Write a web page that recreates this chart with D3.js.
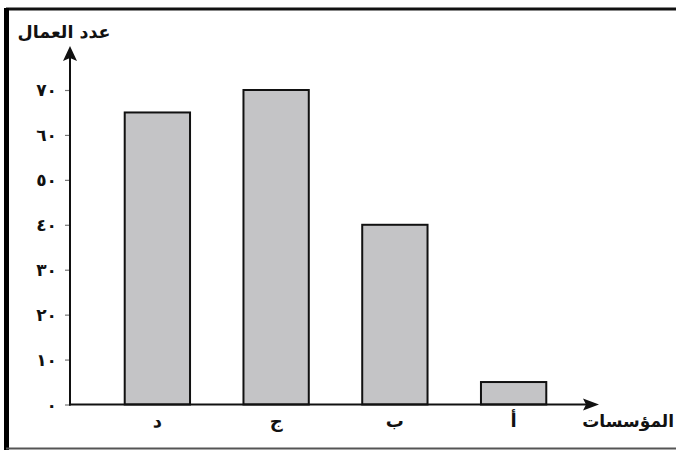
<!DOCTYPE html>
<html><head><meta charset="utf-8">
<script src="https://cdn.jsdelivr.net/npm/d3@7"></script>
<style>
html,body{margin:0;padding:0;background:#fff;}
svg{display:block;}
</style></head>
<body>
<svg id="c" width="676" height="450"></svg>
<script>
const categories = ["د", "ج", "ب", "أ"];
const values = [65, 70, 40, 5];
const tickValues = [0, 10, 20, 30, 40, 50, 60, 70];
const tickLabels = ["٠", "١٠", "٢٠", "٣٠", "٤٠", "٥٠", "٦٠", "٧٠"];
const yTitle = "عدد العمال";
const xTitle = "المؤسسات";

const svg = d3.select("#c");
const font = "'DejaVu Sans', sans-serif";

// frame
svg.append("rect").attr("x",0).attr("y",0).attr("width",676).attr("height",450).attr("fill","#fff");
svg.append("line").attr("x1",6).attr("x2",676).attr("y1",9).attr("y2",9).attr("stroke","#111").attr("stroke-width",3);
svg.append("line").attr("x1",6.5).attr("x2",6.5).attr("y1",8).attr("y2",450).attr("stroke","#000").attr("stroke-width",5);
svg.append("line").attr("x1",6).attr("x2",676).attr("y1",448.5).attr("y2",448.5).attr("stroke","#555").attr("stroke-width",2);

const x0 = 70, y0 = 404.5;
const x = d3.scaleBand().domain(categories).range([98, 573]).paddingInner(0.45).paddingOuter(0.225);
const y = d3.scaleLinear().domain([0, 70]).range([y0, 90]);

// bars
svg.append("g").selectAll("rect").data(values).join("rect")
  .attr("x", (d,i) => x(categories[i]))
  .attr("y", d => y(d))
  .attr("width", x.bandwidth())
  .attr("height", d => y0 - y(d))
  .attr("fill", "#c4c4c6")
  .attr("stroke", "#111")
  .attr("stroke-width", 2);

// y axis
const yAxis = d3.axisLeft(y).tickValues(tickValues).tickSize(5).tickFormat((d,i) => tickLabels[i]);
const gy = svg.append("g").attr("transform", `translate(${x0},0)`).call(yAxis);
gy.select(".domain").remove();
gy.selectAll(".tick line").attr("stroke", "#777").attr("stroke-width", 1.2);
gy.selectAll(".tick text").attr("x", -13).attr("font-family", font).attr("font-weight","bold").attr("font-size", 17).attr("fill","#111").attr("dy","0.35em");

svg.append("line").attr("x1", x0).attr("x2", x0).attr("y1", y0+1).attr("y2", 58).attr("stroke", "#111").attr("stroke-width", 2);
svg.append("path").attr("d", `M${x0},46 L${x0-7},61 L${x0},58 L${x0+7},61 Z`).attr("fill","#111");

// x axis
const xAxis = d3.axisBottom(x).tickSize(0).tickPadding(8);
const gx = svg.append("g").attr("transform", `translate(0,${y0})`).call(xAxis);
gx.select(".domain").remove();
gx.selectAll(".tick text").attr("font-family", font).attr("font-weight","bold").attr("font-size", 18).attr("fill","#111").attr("dy","0.8em");

svg.append("line").attr("x1", x0-1).attr("x2", 586).attr("y1", y0).attr("y2", y0).attr("stroke", "#111").attr("stroke-width", 2);
svg.append("path").attr("d", `M599,${y0} L583,${y0-6} L586,${y0} L583,${y0+6} Z`).attr("fill","#111");

// titles
svg.append("text").attr("x", 64).attr("y", 38).attr("text-anchor","middle").attr("direction","rtl")
  .attr("font-family", font).attr("font-weight","bold").attr("font-size", 17.5).attr("fill","#111").text(yTitle);
const xt = svg.append("text").attr("x", 631).attr("y", 427).attr("text-anchor","middle").attr("direction","rtl")
  .attr("font-family", font).attr("font-weight","bold").attr("font-size", 17).attr("fill","#111").text(xTitle);
const bb = xt.node().getBBox();
if (bb.x + bb.width > 674) xt.attr("x", 631 - (bb.x + bb.width - 674));
</script>
</body></html>
